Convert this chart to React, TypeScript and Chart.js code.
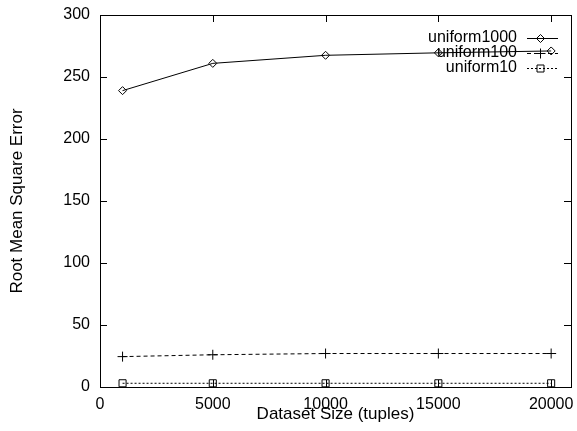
import React, { useEffect, useRef } from "react";
import { Chart, registerables } from "chart.js";

Chart.register(...registerables);

const xValues = [1000, 5000, 10000, 15000, 20000];
const uniform1000 = [239, 261, 267.5, 269.5, 271];
const uniform100 = [24.5, 26, 27, 27, 27];
const uniform10 = [3, 3, 3, 3, 3];
const seriesNames = ["uniform1000", "uniform100", "uniform10"];
const xTickValues = [0, 5000, 10000, 15000, 20000];
const yTickValues = [0, 50, 100, 150, 200, 250, 300];
const xTitle = "Dataset Size (tuples)";
const yTitle = "Root Mean Square Error";

const FONT = "'Liberation Sans', Arial, Helvetica, sans-serif";

type Marker = "diamond" | "cross" | "square";

function drawMarker(ctx: CanvasRenderingContext2D, kind: Marker, x: number, y: number) {
  ctx.beginPath();
  if (kind === "diamond") {
    const r = 4;
    ctx.moveTo(x - r, y);
    ctx.lineTo(x, y - r);
    ctx.lineTo(x + r, y);
    ctx.lineTo(x, y + r);
    ctx.closePath();
  } else if (kind === "cross") {
    const r = 5;
    ctx.moveTo(x - r, y);
    ctx.lineTo(x + r, y);
    ctx.moveTo(x, y - r);
    ctx.lineTo(x, y + r);
  } else {
    const h = 3.5;
    ctx.rect(x - h, y - h, 2 * h, 2 * h);
  }
  ctx.stroke();
}

const markers: Marker[] = ["diamond", "cross", "square"];
const dashes: number[][] = [[], [4, 3], [2, 2]];

const framePlugin = {
  id: "gnuFrame",
  afterDatasetsDraw(chart: any) {
    const { ctx, chartArea } = chart;
    const { left, right, top, bottom } = chartArea;
    const xs = chart.scales.x;
    const ys = chart.scales.y;
    const tl = 7;
    ctx.save();
    ctx.strokeStyle = "#000";
    ctx.lineWidth = 1;
    ctx.setLineDash([]);
    ctx.beginPath();
    for (const v of xTickValues) {
      const px = Math.round(xs.getPixelForValue(v)) + 0.5;
      ctx.moveTo(px, bottom);
      ctx.lineTo(px, bottom - tl);
      ctx.moveTo(px, top);
      ctx.lineTo(px, top + tl);
    }
    for (const v of yTickValues) {
      const py = Math.round(ys.getPixelForValue(v)) + 0.5;
      ctx.moveTo(left, py);
      ctx.lineTo(left + tl, py);
      ctx.moveTo(right, py);
      ctx.lineTo(right - tl, py);
    }
    ctx.stroke();
    ctx.strokeRect(Math.round(left) + 0.5, Math.round(top) + 0.5, Math.round(right - left), Math.round(bottom - top));

    ctx.font = "16px " + FONT;
    ctx.fillStyle = "#000";
    ctx.textAlign = "right";
    ctx.textBaseline = "middle";
    const textRight = 517;
    const rowY0 = 38;
    const rowStep = 15;
    const lineX0 = 527;
    const lineX1 = 558;
    seriesNames.forEach((name, i) => {
      const y = rowY0 + i * rowStep;
      ctx.fillText(name, textRight, y);
      ctx.setLineDash(dashes[i]);
      ctx.beginPath();
      ctx.moveTo(lineX0, y + 0.5);
      ctx.lineTo(lineX1, y + 0.5);
      ctx.stroke();
      ctx.setLineDash([]);
      drawMarker(ctx, markers[i], (lineX0 + lineX1) / 2 - 2, y + 0.5);
    });
    ctx.restore();
  },
};

const zeroPad = (s: any) => {
  s.paddingLeft = 0;
  s.paddingRight = 0;
  s.paddingTop = 0;
  s.paddingBottom = 0;
};

export default function App() {
  const ref = useRef<HTMLCanvasElement | null>(null);
  useEffect(() => {
    document.body.style.margin = "0";
    const canvas = ref.current!;
    const mk = (vals: number[]) => xValues.map((x, i) => ({ x, y: vals[i] }));
    const chart = new Chart(canvas, {
      type: "line",
      data: {
        datasets: [
          { label: seriesNames[0], data: mk(uniform1000), borderColor: "#000", borderWidth: 1, pointStyle: "rectRot", pointRadius: 4, pointBorderWidth: 1, pointBorderColor: "#000", pointBackgroundColor: "rgba(0,0,0,0)", fill: false, tension: 0 },
          { label: seriesNames[1], data: mk(uniform100), borderColor: "#000", borderWidth: 1, borderDash: dashes[1], pointStyle: "cross", pointRadius: 5, pointBorderWidth: 1, pointBorderColor: "#000", pointBackgroundColor: "rgba(0,0,0,0)", fill: false, tension: 0 },
          { label: seriesNames[2], data: mk(uniform10), borderColor: "#000", borderWidth: 1, borderDash: dashes[2], pointStyle: "rect", pointRadius: 5, pointBorderWidth: 1, pointBorderColor: "#000", pointBackgroundColor: "rgba(0,0,0,0)", fill: false, tension: 0 },
        ],
      },
      options: {
        animation: false,
        responsive: false,
        devicePixelRatio: 1,
        layout: { padding: { left: 0, right: 4, top: 15, bottom: 0 } },
        plugins: { legend: { display: false }, tooltip: { enabled: false } },
        scales: {
          x: {
            type: "linear", bounds: "data", min: 0, max: 20880, offset: false,
            grid: { display: false, drawTicks: false },
            border: { display: false },
            afterBuildTicks: (s: any) => { s.ticks = xTickValues.map((v) => ({ value: v })); },
            afterFit: (s: any) => { s.height = 44; zeroPad(s); },
            ticks: { autoSkip: false, maxRotation: 0, padding: 8, color: "#000", font: { family: FONT, size: 16 }, callback: (v: any) => String(v) },
            title: { display: true, text: xTitle, color: "#000", font: { family: FONT, size: 17 }, padding: { top: 0, bottom: 6 } },
          },
          y: {
            type: "linear", bounds: "data", min: 0, max: 300,
            grid: { display: false, drawTicks: false },
            border: { display: false },
            afterBuildTicks: (s: any) => { s.ticks = yTickValues.map((v) => ({ value: v })); },
            afterFit: (s: any) => { s.width = 100; zeroPad(s); },
            ticks: { autoSkip: false, padding: 10, color: "#000", font: { family: FONT, size: 16 }, callback: (v: any) => String(v) },
            title: { display: true, text: yTitle, color: "#000", font: { family: FONT, size: 17 }, padding: { top: 7, bottom: 0 } },
          },
        },
      },
      plugins: [framePlugin],
    } as any);
    return () => chart.destroy();
  }, []);
  return (
    <div style={{ position: "absolute", left: 0, top: 0, width: 577, height: 431, background: "#fff" }}>
      <canvas ref={ref} width={577} height={431} style={{ width: 577, height: 431, display: "block" }} />
    </div>
  );
}
